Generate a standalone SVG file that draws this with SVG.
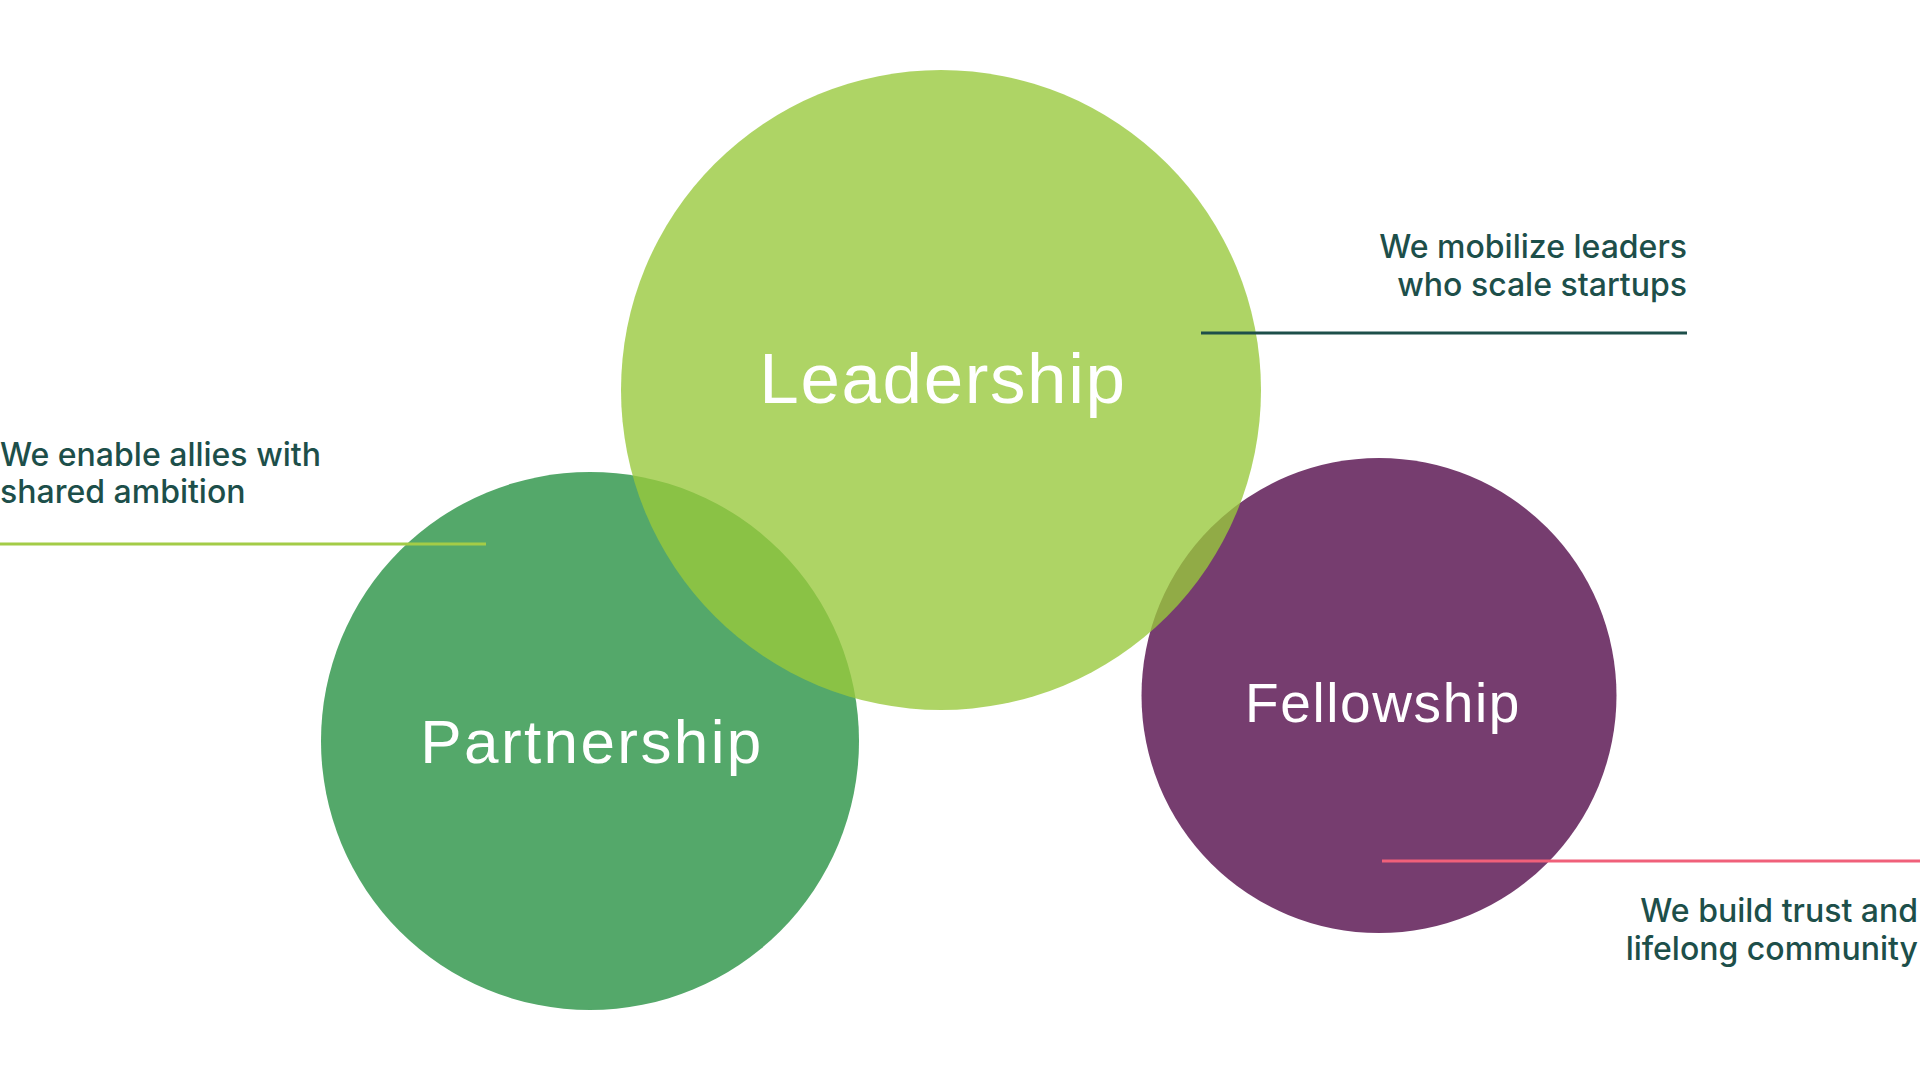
<svg xmlns="http://www.w3.org/2000/svg" width="1920" height="1080" viewBox="0 0 1920 1080">
<style>
.title{font-family:"Liberation Sans",Arial,sans-serif;fill:#ffffff;text-anchor:middle}
.cap{font-family:Inter,"Noto Sans",sans-serif;font-size:32px;fill:#1d4f4a;font-weight:500}
.r{text-anchor:end}
</style>
<rect width="1920" height="1080" fill="#ffffff"/>
<g id="partnership">
<circle cx="590" cy="741" r="269" fill="#54a86a"/>
<text class="title" x="592" y="763" font-size="62" letter-spacing="2.4">Partnership</text>
</g>
<g id="fellowship">
<circle cx="1379" cy="695.5" r="237.5" fill="#763d6f"/>
<text class="title" x="1383" y="722" font-size="55" letter-spacing="1.6">Fellowship</text>
</g>
<g id="leadership">
<circle cx="941" cy="390" r="320" fill="#98c83c" fill-opacity="0.79"/>
<text class="title" x="943" y="403" font-size="71" letter-spacing="1.6">Leadership</text>
</g>
<g id="connectors">
<line x1="0" y1="544" x2="486" y2="544" stroke="#a3cc47" stroke-width="3"/>
<line x1="1201" y1="333" x2="1687" y2="333" stroke="#1d4f4a" stroke-width="3"/>
<line x1="1382" y1="861" x2="1920" y2="861" stroke="#f0607a" stroke-width="3"/>
</g>
<g id="label-partnership">
<text class="cap" x="0" y="466">We enable allies with</text>
<text class="cap" x="0" y="503">shared ambition</text>
</g>
<g id="label-leadership">
<text class="cap r" x="1687" y="258">We mobilize leaders</text>
<text class="cap r" x="1687" y="296">who scale startups</text>
</g>
<g id="label-fellowship">
<text class="cap r" x="1918" y="922">We build trust and</text>
<text class="cap r" x="1918" y="960">lifelong community</text>
</g>
</svg>
